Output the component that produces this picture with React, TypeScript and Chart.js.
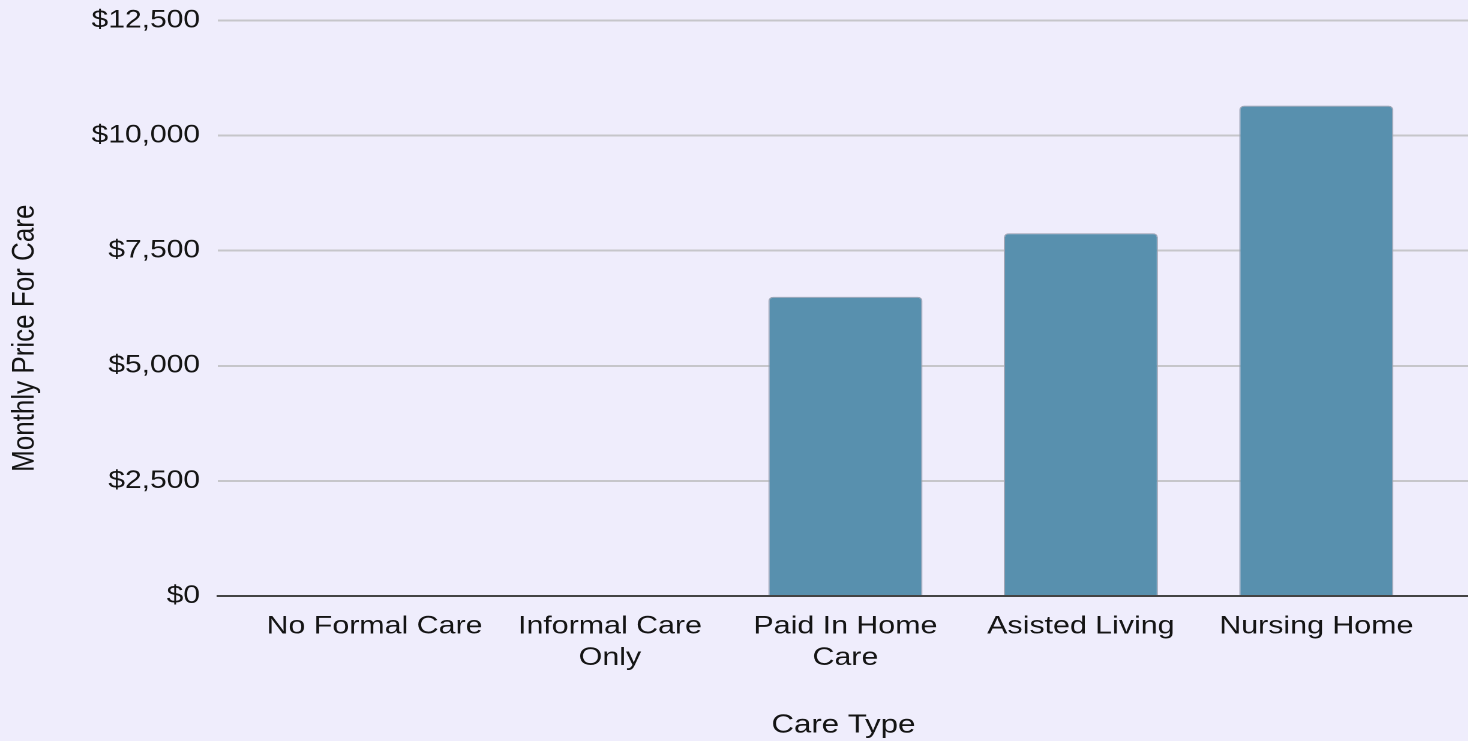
import React, { useEffect, useRef } from "react";
import { Chart, registerables } from "chart.js";

Chart.register(...registerables);

// ---- data ----
const categories: string[][] = [
  ["No Formal Care"],
  ["Informal Care", "Only"],
  ["Paid In Home", "Care"],
  ["Asisted Living"],
  ["Nursing Home"],
];
const monthlyPrice: number[] = [0, 0, 6500, 7880, 10650];
const yTicks: number[] = [0, 2500, 5000, 7500, 10000, 12500];
const xAxisTitle = "Care Type";
const yAxisTitle = "Monthly Price For Care";

// ---- style ----
const STRETCH = 1.2; // reference text is horizontally wider than tall
const CANVAS_W = 1224;
const CANVAS_H = 741;
const FONT = "'Liberation Sans', Arial, sans-serif";
const TEXT = "#141414";
const BG = "#efedfc";

const yTitlePlugin = {
  id: "yTitlePlugin",
  afterDraw(chart: any) {
    const { ctx, chartArea } = chart;
    ctx.save();
    ctx.font = `26px ${FONT}`;
    ctx.fillStyle = TEXT;
    ctx.textAlign = "center";
    ctx.textBaseline = "middle";
    ctx.translate(21, (chartArea.top + chartArea.bottom) / 2 + 30);
    ctx.rotate(-Math.PI / 2);
    ctx.fillText(yAxisTitle, 0, 0);
    ctx.restore();
  },
};

export default function App() {
  const ref = useRef<HTMLCanvasElement>(null);

  useEffect(() => {
    if (!ref.current) return;
    const chart = new Chart(ref.current, {
      type: "bar",
      data: {
        datasets: [
          {
            data: monthlyPrice.map((v, i) => ({ x: i, y: v })),
            backgroundColor: "#5890ae",
            borderColor: "#9ea4b4",
            borderWidth: (c: any) => (c.raw && c.raw.y ? 1 : 0),
            borderSkipped: "start",
            borderRadius: { topLeft: 4, topRight: 4, bottomLeft: 0, bottomRight: 0 },
            barPercentage: 0.6545,
            categoryPercentage: 1,
          } as any,
        ],
      },
      options: {
        animation: false,
        responsive: false,
        devicePixelRatio: 2,
        layout: { padding: { left: 71.3, top: 20.5, right: 0, bottom: 0 } },
        plugins: {
          legend: { display: false },
          tooltip: { enabled: false },
          title: { display: false },
        },
        scales: {
          x: {
            type: "linear",
            offset: false,
            min: -0.6647,
            max: 4.6476,
            z: 1,
            grid: { display: false, drawTicks: false },
            border: { display: true, color: "#444444", width: 2 },
            ticks: {
              stepSize: 1,
              includeBounds: false,
              autoSkip: false,
              maxRotation: 0,
              minRotation: 0,
              padding: 14.5,
              color: TEXT,
              font: { family: FONT, size: 25.3, lineHeight: 1.255 },
              callback: (v: any) =>
                Number.isInteger(v) && categories[v] ? categories[v] : "",
            },
            title: {
              display: true,
              text: xAxisTitle,
              color: TEXT,
              font: { family: FONT, size: 26, lineHeight: 1.2 },
              padding: { top: 21.3, bottom: 0 },
            },
          } as any,
          y: {
            min: yTicks[0],
            max: yTicks[yTicks.length - 1],
            grid: {
              color: "#c6c6ca",
              lineWidth: 2,
              drawTicks: true,
              tickLength: 10,
              tickColor: "rgba(0,0,0,0)",
            },
            border: { display: false },
            ticks: {
              stepSize: yTicks[1] - yTicks[0],
              padding: 5,
              color: TEXT,
              font: { family: FONT, size: 25 },
              callback: (v: any) => "$" + Number(v).toLocaleString("en-US"),
            },
          },
        },
      },
      plugins: [yTitlePlugin],
    });
    return () => chart.destroy();
  }, []);

  return (
    <div
      style={{
        position: "fixed",
        left: 0,
        top: 0,
        width: 1468,
        height: 741,
        overflow: "hidden",
        background: BG,
      }}
    >
      <div
        style={{
          width: CANVAS_W,
          height: CANVAS_H,
          transform: `scaleX(${STRETCH})`,
          transformOrigin: "0 0",
        }}
      >
        <canvas
          ref={ref}
          width={CANVAS_W}
          height={CANVAS_H}
          style={{ display: "block", width: CANVAS_W, height: CANVAS_H }}
        />
      </div>
    </div>
  );
}
